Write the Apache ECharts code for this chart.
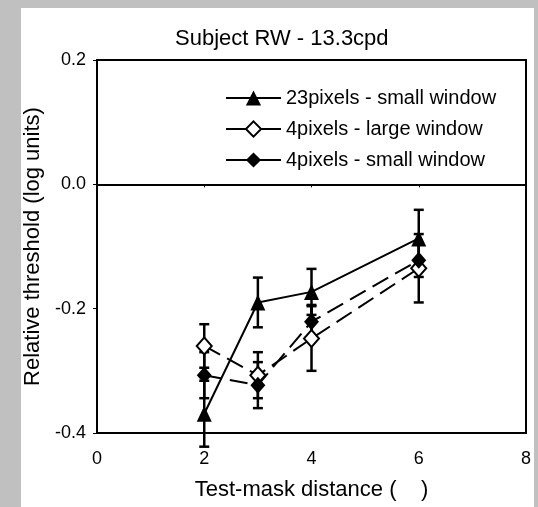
<!DOCTYPE html>
<html>
<head>
<meta charset="utf-8">
<script src="https://cdn.jsdelivr.net/npm/echarts@6/dist/echarts.min.js"></script>
<style>
  html, body { margin: 0; padding: 0; background: #c0c0c0; }
  #main { width: 538px; height: 507px; }
</style>
</head>
<body>
<div id="main"></div>
<script>
// test-mask distances
const distances = [2, 3, 4, 6];

// 23pixels - small window (filled triangle, solid line)
const triVals = [-0.369, -0.19, -0.173, -0.087];
const triErr = [0.053, 0.04, 0.037, 0.046];

// 4pixels - large window (open diamond, dashed)
const openVals = [-0.26, -0.307, -0.248, -0.135];
const openErr = [0.035, 0.037, 0.052, 0.055];

// 4pixels - small window (filled diamond, dashed)
const fillVals = [-0.307, -0.323, -0.221, -0.122];
const fillErr = [0.037, 0.037, 0.027, 0.027];

const names = ['23pixels - small window', '4pixels - large window', '4pixels - small window'];
const font = '"Liberation Sans", Arial, sans-serif';

function pairs(vals) {
  return distances.map((d, i) => [d, vals[i]]);
}

function errData(vals, errs) {
  return distances.map((d, i) => [d, vals[i] - errs[i], vals[i] + errs[i]]);
}

// error bar drawn as vertical line with caps
function renderErr(params, api) {
  const x = api.value(0);
  const lo = api.coord([x, api.value(1)]);
  const hi = api.coord([x, api.value(2)]);
  const w = 5;
  const style = { stroke: '#000', lineWidth: 2.5 };
  return {
    type: 'group',
    children: [
      { type: 'line', shape: { x1: lo[0], y1: lo[1], x2: hi[0], y2: hi[1] }, style: style },
      { type: 'line', shape: { x1: hi[0] - w, y1: hi[1], x2: hi[0] + w, y2: hi[1] }, style: style },
      { type: 'line', shape: { x1: lo[0] - w, y1: lo[1], x2: lo[0] + w, y2: lo[1] }, style: style }
    ]
  };
}

const chart = echarts.init(document.getElementById('main'));

const option = {
  backgroundColor: '#c0c0c0',
  animation: false,
  textStyle: { fontFamily: font },
  graphic: [
    { type: 'rect', z: -10, shape: { x: 21, y: 8, width: 513, height: 510 }, style: { fill: '#fff' } }
  ],
  title: {
    text: 'Subject RW - 13.3cpd',
    left: 170,
    top: 23,
    textStyle: { fontSize: 22, fontWeight: 'normal', color: '#000', fontFamily: font }
  },
  legend: {
    data: names,
    orient: 'vertical',
    left: 220,
    top: 83,
    itemWidth: 55,
    itemHeight: 19,
    itemGap: 11,
    lineStyle: { type: 'solid' },
    textStyle: { fontSize: 20, color: '#000', fontFamily: font }
  },
  grid: {
    left: 97, right: 12, top: 60, bottom: 74,
    show: true, borderColor: '#000', borderWidth: 2
  },
  xAxis: {
    type: 'value',
    min: 0, max: 8, interval: 2,
    name: 'Test-mask distance (    )',
    nameLocation: 'middle',
    nameGap: 46,
    nameTextStyle: { fontSize: 22, color: '#000', fontFamily: font },
    axisLine: { lineStyle: { color: '#000', width: 2 } },
    axisTick: { length: 3, lineStyle: { color: '#000' } },
    axisLabel: { fontSize: 18, color: '#000', margin: 17 },
    splitLine: { show: false }
  },
  yAxis: {
    type: 'value',
    min: -0.4, max: 0.2, interval: 0.2,
    name: 'Relative threshold (log units)',
    nameLocation: 'middle',
    nameGap: 48,
    nameTextStyle: { fontSize: 22, color: '#000', fontFamily: font },
    axisLine: { show: true, lineStyle: { color: '#000', width: 2 } },
    axisTick: { show: true, length: 4, lineStyle: { color: '#000' } },
    axisLabel: {
      fontSize: 18, color: '#000', margin: 11,
      formatter: v => (Math.abs(v) < 1e-9 ? 0 : v).toFixed(1)
    },
    splitLine: { show: false }
  },
  series: [
    {
      type: 'custom', name: 'err1', z: 1, renderItem: renderErr,
      data: errData(triVals, triErr)
    },
    {
      type: 'custom', name: 'err2', z: 1, renderItem: renderErr,
      data: errData(openVals, openErr)
    },
    {
      type: 'custom', name: 'err3', z: 1, renderItem: renderErr,
      data: errData(fillVals, fillErr)
    },
    {
      name: names[0], type: 'line', z: 3,
      data: pairs(triVals),
      symbol: 'triangle', symbolSize: [15, 16],
      itemStyle: { color: '#000' },
      lineStyle: { color: '#000', width: 2 },
      markLine: {
        silent: true, symbol: 'none', label: { show: false },
        lineStyle: { color: '#000', width: 2, type: 'solid' },
        data: [{ yAxis: 0 }]
      }
    },
    {
      name: names[1], type: 'line', z: 3,
      data: pairs(openVals),
      symbol: 'diamond', symbolSize: [15, 17],
      itemStyle: { color: '#fff', borderColor: '#000', borderWidth: 2 },
      lineStyle: { color: '#000', width: 2, type: [18, 8] }
    },
    {
      name: names[2], type: 'line', z: 3,
      data: pairs(fillVals),
      symbol: 'diamond', symbolSize: [15, 17],
      itemStyle: { color: '#000' },
      lineStyle: { color: '#000', width: 2, type: [18, 8] }
    }
  ]
};

chart.setOption(option);
</script>
</body>
</html>
